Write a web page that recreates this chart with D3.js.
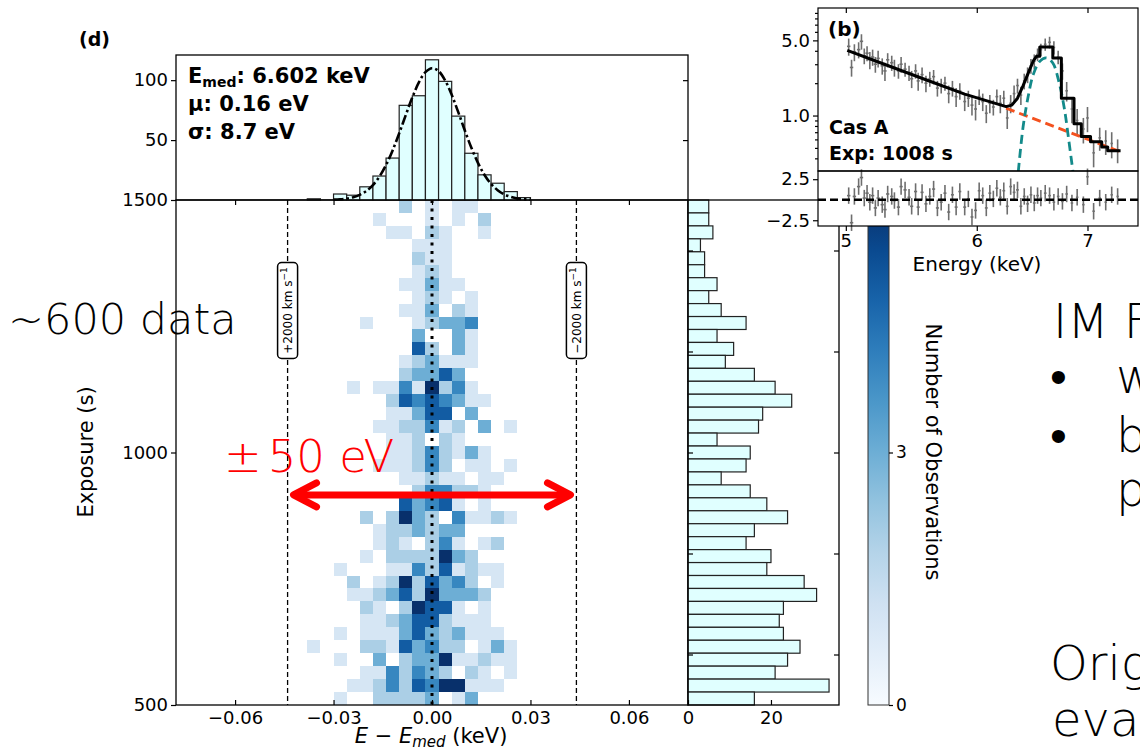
<!DOCTYPE html>
<html>
<head>
<meta charset="utf-8">
<title>Fe K line centroid vs exposure</title>
<script src="https://d3js.org/d3.v7.min.js"></script>
<style>
  body {margin: 0; background: #fff;}
  svg text {font-family: "DejaVu Sans", sans-serif;}
  .slide {font-family: "Noto Sans CJK JP", sans-serif; font-weight: 300;}
</style>
</head>
<body>
<svg id="chart" width="1140" height="751"></svg>
<script>
// ---------- data ----------
// energy bins (centre, eV offset from E_med), 4 eV wide
const energyBinsEV = [-36,-32,-28,-24,-20,-16,-12,-8,-4,0,4,8,12,16,20,24,28,32];
// top histogram counts per energy bin
const energyCounts = [1,0,5,4,11,20,35,79,87,117,99,70,39,21,14,7,2,0];
// right histogram counts per exposure bin, listed from 1500 s down to 500 s
const exposureCounts = [5,5,6,3,4,4,7,5,8,14, 7,11,9,16,21,25,18,17,7,15,
                        14,8,15,19,24,16,14,20,19,28, 31,23,22,23,27,24,21,34,16];
// 2D counts: rows = exposure bins (1500 s -> 500 s), columns = energyBinsEV
const cellCounts = [
  [0,0,0,0,0,0,0,2,0,1,0,1,1,0,0,0,0,0],
  [0,0,0,0,0,1,0,0,0,1,0,1,0,2,0,0,0,0],
  [0,0,0,0,0,0,1,1,0,2,1,0,0,1,0,0,0,0],
  [0,0,0,0,0,0,0,0,1,1,1,0,0,0,0,0,0,0],
  [0,0,0,0,0,0,0,0,2,1,1,0,0,0,0,0,0,0],
  [0,0,0,0,0,0,0,0,1,2,1,0,0,0,0,0,0,0],
  [0,0,0,0,0,0,0,1,1,3,1,1,0,0,0,0,0,0],
  [0,0,0,0,0,0,0,0,1,2,1,0,1,0,0,0,0,0],
  [0,0,0,0,0,0,0,1,1,3,0,2,1,0,0,0,0,0],
  [0,0,0,0,1,0,0,0,1,2,3,3,4,0,0,0,0,0],
  [0,0,0,0,0,0,0,0,3,0,0,3,1,0,0,0,0,0],
  [0,0,0,0,0,0,0,0,5,2,0,3,1,0,0,0,0,0],
  [0,0,0,0,0,0,0,1,2,3,1,1,1,0,0,0,0,0],
  [0,0,0,0,0,0,0,2,3,3,5,3,0,0,0,0,0,0],
  [0,0,0,1,0,1,1,4,1,6,2,4,1,0,0,0,0,0],
  [0,0,0,0,0,0,2,5,4,5,4,3,1,1,0,0,0,0],
  [0,0,0,0,0,0,1,1,3,5,5,0,3,0,0,0,0,0],
  [0,0,0,0,0,1,1,2,2,4,1,2,0,3,0,1,0,0],
  [0,0,0,0,0,0,1,1,2,0,2,1,0,0,0,0,0,0],
  [0,0,0,0,0,0,1,1,2,4,2,1,3,1,0,0,0,0],
  [0,0,0,0,0,1,1,1,2,4,2,0,1,1,0,1,0,0],
  [0,0,0,0,0,0,0,1,1,2,1,1,0,1,1,0,0,0],
  [0,0,0,0,0,0,0,0,2,4,4,2,2,1,0,0,0,0],
  [0,0,0,0,0,0,0,5,3,4,5,1,0,1,0,0,0,0],
  [0,0,0,0,2,0,2,6,3,2,0,4,1,1,2,1,0,0],
  [0,0,0,0,0,1,2,2,3,2,3,3,0,0,0,0,0,0],
  [0,0,0,0,0,1,2,1,0,2,4,1,0,1,2,0,0,0],
  [0,0,0,0,1,0,2,2,2,2,6,3,2,0,0,0,0,0],
  [0,0,1,0,0,0,1,1,4,2,5,1,2,1,1,0,0,0],
  [0,0,0,2,0,1,2,6,2,5,3,4,2,0,1,0,0,0],
  [0,0,0,1,1,2,3,5,2,6,3,3,3,2,0,0,0,0],
  [0,0,0,0,2,1,0,2,6,5,5,1,0,1,0,0,0,0],
  [0,0,0,0,1,1,2,3,5,5,2,1,1,1,0,0,0,0],
  [0,0,1,0,1,1,1,3,5,3,2,3,1,1,1,0,0,0],
  [1,0,0,0,2,2,1,5,3,4,2,2,0,1,3,1,0,0],
  [0,0,1,0,0,3,0,2,3,3,6,1,1,2,1,1,0,0],
  [0,0,0,0,1,1,4,2,4,3,2,0,2,1,0,1,0,0],
  [0,0,0,1,1,2,4,2,5,4,6,6,1,1,1,0,0,0],
  [0,0,1,0,0,2,2,2,2,3,0,1,3,0,0,0,0,0]
];
// gaussian fit drawn over the top histogram (eV, counts)
const fitEV     = [-30,-28,-26,-24,-22,-20,-18,-16,-14,-12,-10,-8,-6,-4,-2,0,2,4,6,8,10,12,14,16,18,20,22,24,26,28,30];
const fitCounts = [0.3,0.6,1.2,2.3,4.3,7.5,12.5,19.6,29.2,41.4,55.6,70.8,85.6,98.1,106.7,110,107.6,99.8,87.8,73.3,58,43.6,31,20.9,13.4,8.2,4.7,2.6,1.3,0.7,0.3];
const velocityLines = [{e: -0.044, label: "+2000 km s"}, {e: 0.044, label: "\u22122000 km s"}];
const arrowSpan = [-0.0425, 0.0425], arrowExposure = 916;

// inset (b): Cas A spectrum  [E keV, flux, error]
const specData = [
  [5.02,4.4,0.8],[5.04,2.8,0.5],[5.06,3.9,0.7],[5.09,4.1,0.7],[5.11,4.9,0.8],[5.13,3.6,0.6],[5.15,3.8,0.6],
  [5.17,3.3,0.6],[5.19,3.5,0.6],[5.21,3.0,0.5],[5.23,3.4,0.6],[5.26,2.9,0.5],[5.28,2.6,0.5],[5.30,3.3,0.5],
  [5.33,3.1,0.5],[5.35,2.8,0.5],[5.38,2.6,0.4],[5.40,3.0,0.5],[5.43,2.7,0.4],[5.46,2.5,0.4],[5.48,2.2,0.4],
  [5.51,2.6,0.4],[5.53,2.1,0.4],[5.56,2.4,0.4],[5.59,2.0,0.35],[5.62,2.2,0.35],[5.65,2.3,0.35],[5.68,1.8,0.3],
  [5.71,1.9,0.3],[5.74,2.0,0.3],[5.77,1.6,0.3],[5.80,1.8,0.3],[5.83,1.5,0.3],[5.86,1.7,0.3],[5.90,1.35,0.25],
  [5.93,1.45,0.25],[5.96,1.25,0.25],[5.99,1.15,0.25],[6.02,1.5,0.25],[6.05,1.35,0.25],[6.08,1.05,0.2],
  [6.11,1.3,0.25],[6.14,1.2,0.2],[6.17,1.5,0.25],[6.20,1.3,0.25],[6.23,1.45,0.25],[6.26,0.95,0.2],
  [6.29,1.3,0.25],[6.32,1.6,0.3],[6.35,1.9,0.3],[6.38,1.55,0.3],[6.41,2.1,0.35],[6.44,2.4,0.4],[6.47,2.9,0.45],
  [6.50,3.2,0.5],[6.53,3.7,0.5],[6.56,4.1,0.55],[6.60,4.6,0.6],[6.64,4.8,0.6],[6.68,4.3,0.6],[6.72,3.5,0.5],
  [6.76,2.6,0.45],[6.80,1.7,0.35],[6.85,1.15,0.3],[6.90,0.9,0.25],[6.96,0.75,0.2],[7.00,0.95,0.25],
  [7.06,0.45,0.12],[7.12,0.62,0.15],[7.18,0.58,0.15],[7.24,0.55,0.15],[7.30,0.48,0.12]
];
const residuals = [
  [5.02,0.5],[5.04,-2.8],[5.06,0.4],[5.09,1.6],[5.11,2.7],[5.13,0.2],[5.15,0.8],[5.17,-0.3],[5.19,0.5],
  [5.21,-1.0],[5.23,0.2],[5.26,-0.6],[5.28,-1.2],[5.30,0.7],[5.33,0.4],[5.35,-0.1],[5.38,-0.9],[5.40,1.6],
  [5.43,1.2],[5.46,0.3],[5.48,-0.8],[5.51,1.0],[5.53,-0.9],[5.56,0.9],[5.59,-0.5],[5.62,0.4],[5.65,1.3],
  [5.68,-1.0],[5.71,-0.3],[5.74,0.8],[5.77,-1.5],[5.80,0.6],[5.83,-0.9],[5.86,1.0],[5.90,-0.9],[5.93,0.1],
  [5.96,-2.1],[5.99,-1.3],[6.02,1.1],[6.05,0.5],[6.08,-1.0],[6.11,0.8],[6.14,0.1],[6.17,1.4],[6.20,0.3],
  [6.23,1.1],[6.26,-0.8],[6.29,1.6],[6.32,0.9],[6.35,1.2],[6.38,-0.8],[6.41,0.4],[6.44,-0.5],[6.47,0.6],
  [6.50,-0.4],[6.53,0.5],[6.56,0.2],[6.60,0.8],[6.64,0.5],[6.68,-0.3],[6.72,0.4],[6.76,-0.2],[6.80,0.7],
  [6.85,-0.4],[6.90,0.3],[6.96,-0.6],[7.00,2.8],[7.06,-1.4],[7.12,0.2],[7.18,-0.3],[7.24,0.6],[7.30,0.4]
];
const modelLine = [
  [5.01,4.03],[5.30,2.92],[5.60,2.13],[5.90,1.58],[6.25,1.21],[6.30,1.25],[6.35,1.45],[6.40,1.90],
  [6.45,2.55],[6.49,3.20],[6.52,3.55],[6.55,3.55],[6.55,4.34],[6.67,4.34],[6.67,3.43],[6.75,3.43],
  [6.75,1.45],[6.87,1.45],[6.87,0.84],[6.94,0.84],[6.94,0.64],[7.03,0.64],[7.03,0.57],[7.14,0.57],
  [7.14,0.51],[7.20,0.51],[7.20,0.47],[7.33,0.47]
];
const continuumLine = [[6.25,1.17],[7.33,0.46]];
const gaussLine = [[6.357,0.30],[6.40,0.79],[6.445,1.5],[6.49,2.39],[6.55,3.19],[6.61,3.43],
                   [6.67,3.08],[6.73,2.0],[6.78,1.13],[6.82,0.59],[6.86,0.30]];

// ---------- scales ----------
const svg = d3.select("#chart");
const x = d3.scaleLinear().domain([-0.078, 0.078]).range([176, 688]);
const y = d3.scaleLinear().domain([500, 1500]).range([705, 200]);
const yTop = d3.scaleLinear().domain([0, 121]).range([200, 55]);
const xRight = d3.scaleLinear().domain([0, 36.4]).range([688, 839]);
const yBar = d3.scaleLinear().domain([0, 6]).range([705, 200]);
const color = d3.scaleSequential(d3.interpolateBlues).domain([0, 6]);
const halfBin = 0.002;
const nRows = exposureCounts.length;
const rowEdges = d3.range(nRows + 1).map(i => 1500 - i * 1000 / nRows);
const intFmt = d3.format("d");

function styleAxis(g, size) {
  g.select(".domain").remove();
  g.selectAll("line").attr("stroke", "#000").attr("stroke-width", 1.2);
  g.selectAll("text").attr("font-size", size || 18).attr("fill", "#000")
    .attr("font-family", "DejaVu Sans, sans-serif");
}

// ---------- heatmap ----------
const cells = [];
cellCounts.forEach((row, i) => row.forEach((n, j) => {
  if (n > 0) cells.push({e: energyBinsEV[j] / 1000, hi: rowEdges[i], lo: rowEdges[i + 1], n: n});
}));
svg.append("g").selectAll("rect").data(cells).join("rect")
  .attr("x", d => x(d.e - halfBin))
  .attr("width", d => x(d.e + halfBin) - x(d.e - halfBin))
  .attr("y", d => y(d.hi))
  .attr("height", d => y(d.lo) - y(d.hi))
  .attr("fill", d => color(d.n))
  .attr("shape-rendering", "crispEdges");

// zero line and +-2000 km/s lines
svg.append("line").attr("x1", x(0)).attr("x2", x(0)).attr("y1", y(1500)).attr("y2", y(500))
  .attr("stroke", "#000").attr("stroke-width", 3).attr("stroke-dasharray", "3,5.5");
velocityLines.forEach(v => {
  svg.append("line").attr("x1", x(v.e)).attr("x2", x(v.e)).attr("y1", y(1500)).attr("y2", y(500))
    .attr("stroke", "#000").attr("stroke-width", 1.3).attr("stroke-dasharray", "5,3");
  const g = svg.append("g").attr("transform", `translate(${x(v.e)},310.5) rotate(-90)`);
  g.append("rect").attr("x", -48).attr("y", -10).attr("width", 96).attr("height", 20).attr("rx", 4)
    .attr("fill", "#fff").attr("stroke", "#000").attr("stroke-width", 1.5);
  const t = g.append("text").attr("text-anchor", "middle").attr("y", 4.5).attr("font-size", 12);
  t.append("tspan").text(v.label);
  t.append("tspan").attr("dy", -5).attr("font-size", 9).text("\u22121");
});

// red double arrow
const ay = y(arrowExposure), ax0 = x(arrowSpan[0]), ax1 = x(arrowSpan[1]);
const red = svg.append("g").attr("stroke", "#ff0000").attr("stroke-width", 7).attr("fill", "none")
  .attr("stroke-linecap", "round").attr("stroke-linejoin", "round");
red.append("line").attr("x1", ax0 + 3).attr("x2", ax1 - 3).attr("y1", ay).attr("y2", ay);
red.append("polyline").attr("points", `${ax0 + 24},${ay - 12} ${ax0 + 1},${ay} ${ax0 + 24},${ay + 12}`);
red.append("polyline").attr("points", `${ax1 - 24},${ay - 12} ${ax1 - 1},${ay} ${ax1 - 24},${ay + 12}`);

// main frame + axes
svg.append("rect").attr("x", 176).attr("y", 200).attr("width", 512).attr("height", 505)
  .attr("fill", "none").attr("stroke", "#000").attr("stroke-width", 1.3);
const xt = [-0.06, -0.03, 0, 0.03, 0.06];
svg.append("g").attr("transform", "translate(0,705)")
  .call(d3.axisBottom(x).tickValues(xt).tickFormat(d3.format(".2f")).tickSize(-5).tickPadding(6))
  .call(g => styleAxis(g));
svg.append("g").attr("transform", "translate(0,200)")
  .call(d3.axisTop(x).tickValues(xt).tickFormat("").tickSize(-5))
  .call(g => styleAxis(g));
svg.append("g").attr("transform", "translate(176,0)")
  .call(d3.axisLeft(y).tickValues([500, 1000, 1500]).tickFormat(intFmt).tickSize(5).tickPadding(3))
  .call(g => styleAxis(g));

svg.append("text").attr("transform", "translate(93,452) rotate(-90)").attr("text-anchor", "middle")
  .attr("font-size", 21).text("Exposure (s)");
const xl = svg.append("text").attr("x", 431).attr("y", 743).attr("text-anchor", "middle").attr("font-size", 21);
xl.append("tspan").attr("font-style", "italic").text("E");
xl.append("tspan").text(" \u2212 ");
xl.append("tspan").attr("font-style", "italic").text("E");
xl.append("tspan").attr("font-style", "italic").attr("font-size", 15).attr("dy", 4).text("med");
xl.append("tspan").attr("dy", -4).text(" (keV)");

// ---------- top histogram ----------
const topBars = energyBinsEV.map((ev, i) => ({e: ev / 1000, n: energyCounts[i]})).filter(d => d.n > 0);
svg.append("g").selectAll("rect").data(topBars).join("rect")
  .attr("x", d => x(d.e - halfBin)).attr("width", d => x(d.e + halfBin) - x(d.e - halfBin))
  .attr("y", d => yTop(d.n)).attr("height", d => yTop(0) - yTop(d.n))
  .attr("fill", "#e0ffff").attr("stroke", "#222").attr("stroke-width", 1.2);
svg.append("path")
  .datum(fitEV.map((ev, i) => [ev / 1000, fitCounts[i]]))
  .attr("d", d3.line().x(d => x(d[0])).y(d => yTop(d[1])).curve(d3.curveCatmullRom))
  .attr("fill", "none").attr("stroke", "#000").attr("stroke-width", 2.6)
  .attr("stroke-dasharray", "10,3,2.5,3");
svg.append("rect").attr("x", 176).attr("y", 55).attr("width", 512).attr("height", 145)
  .attr("fill", "none").attr("stroke", "#000").attr("stroke-width", 1.3);
svg.append("g").attr("transform", "translate(176,0)")
  .call(d3.axisLeft(yTop).tickValues([50, 100]).tickFormat(intFmt).tickSize(5).tickPadding(3))
  .call(g => styleAxis(g));
svg.append("g").attr("transform", "translate(688,0)")
  .call(d3.axisRight(yTop).tickValues([50, 100]).tickFormat("").tickSize(-5))
  .call(g => styleAxis(g));

const ann = svg.append("g").attr("font-weight", "bold").attr("font-size", 21);
const a1 = ann.append("text").attr("x", 188).attr("y", 83);
a1.append("tspan").text("E");
a1.append("tspan").attr("font-size", 14).attr("dy", 4).text("med");
a1.append("tspan").attr("dy", -4).text(": 6.602 keV");
ann.append("text").attr("x", 188).attr("y", 111).text("\u03bc: 0.16 eV");
ann.append("text").attr("x", 188).attr("y", 139).text("\u03c3: 8.7 eV");
svg.append("text").attr("x", 79).attr("y", 46).attr("font-weight", "bold").attr("font-size", 19).text("(d)");

// ---------- right histogram ----------
const rightBars = exposureCounts.map((n, i) => ({hi: rowEdges[i], lo: rowEdges[i + 1], n: n}));
svg.append("g").selectAll("rect").data(rightBars).join("rect")
  .attr("x", xRight(0)).attr("width", d => xRight(d.n) - xRight(0))
  .attr("y", d => y(d.hi)).attr("height", d => y(d.lo) - y(d.hi))
  .attr("fill", "#e0ffff").attr("stroke", "#222").attr("stroke-width", 1.2);
svg.append("rect").attr("x", 688).attr("y", 200).attr("width", 151).attr("height", 505)
  .attr("fill", "none").attr("stroke", "#000").attr("stroke-width", 1.3);
svg.append("g").attr("transform", "translate(0,705)")
  .call(d3.axisBottom(xRight).tickValues([0, 20]).tickFormat(intFmt).tickSize(-5).tickPadding(6))
  .call(g => styleAxis(g));
const ry = [600, 800, 1000, 1200, 1400];
svg.append("g").attr("transform", "translate(688,0)")
  .call(d3.axisRight(y).tickValues(ry).tickFormat("").tickSize(5)).call(g => styleAxis(g));
svg.append("g").attr("transform", "translate(839,0)")
  .call(d3.axisLeft(y).tickValues(ry).tickFormat("").tickSize(5)).call(g => styleAxis(g));

// ---------- colorbar ----------
const grad = svg.append("defs").append("linearGradient").attr("id", "cbar")
  .attr("x1", 0).attr("y1", 1).attr("x2", 0).attr("y2", 0);
d3.range(0, 1.0001, 0.1).forEach(t => grad.append("stop").attr("offset", t).attr("stop-color", d3.interpolateBlues(t)));
svg.append("rect").attr("x", 868).attr("y", 200).attr("width", 21).attr("height", 505)
  .attr("fill", "url(#cbar)").attr("stroke", "#333").attr("stroke-width", 1);
svg.append("g").attr("transform", "translate(889,0)")
  .call(d3.axisRight(yBar).tickValues([0, 3]).tickFormat(intFmt).tickSize(4).tickPadding(3))
  .call(g => styleAxis(g, 17));
svg.append("text").attr("transform", "translate(926,452) rotate(90)").attr("text-anchor", "middle")
  .attr("font-size", 21).text("Number of Observations");

// ---------- inset (b) ----------
const xi = d3.scaleLog().domain([4.81, 7.51]).range([818, 1138]);
const yi = d3.scaleLog().domain([0.305, 10]).range([171, 8]);
const yr = d3.scaleLinear().domain([-3.2, 3.5]).range([226, 171]);
const inset = svg.append("g");
inset.append("rect").attr("x", 818).attr("y", 8).attr("width", 320).attr("height", 218).attr("fill", "#fff");
inset.append("clipPath").attr("id", "upclip").append("rect")
  .attr("x", 818).attr("y", 8).attr("width", 320).attr("height", 163);
const up = inset.append("g").attr("clip-path", "url(#upclip)");
const gray = "#6e6e6e";
specData.forEach(d => {
  up.append("line").attr("x1", xi(d[0])).attr("x2", xi(d[0]))
    .attr("y1", yi(d[1] + d[2])).attr("y2", yi(Math.max(d[1] - d[2], 0.01)))
    .attr("stroke", gray).attr("stroke-width", 1.6);
  up.append("line").attr("x1", xi(d[0] - 0.012)).attr("x2", xi(d[0] + 0.012))
    .attr("y1", yi(d[1])).attr("y2", yi(d[1])).attr("stroke", gray).attr("stroke-width", 1.6);
});
const lineI = d3.line().x(d => xi(d[0])).y(d => yi(d[1]));
up.append("path").datum(continuumLine).attr("d", lineI).attr("fill", "none")
  .attr("stroke", "#f4511e").attr("stroke-width", 2.8).attr("stroke-dasharray", "9,5");
up.append("path").datum(gaussLine).attr("d", lineI.curve(d3.curveCatmullRom)).attr("fill", "none")
  .attr("stroke", "#138a8a").attr("stroke-width", 2.8).attr("stroke-dasharray", "9,5");
up.append("path").datum(modelLine).attr("d", d3.line().x(d => xi(d[0])).y(d => yi(d[1]))).attr("fill", "none")
  .attr("stroke", "#000").attr("stroke-width", 3).attr("stroke-linejoin", "round");

residuals.forEach(d => {
  inset.append("line").attr("x1", xi(d[0])).attr("x2", xi(d[0]))
    .attr("y1", yr(d[1] + 1)).attr("y2", yr(d[1] - 1)).attr("stroke", gray).attr("stroke-width", 1.6);
  inset.append("line").attr("x1", xi(d[0] - 0.012)).attr("x2", xi(d[0] + 0.012))
    .attr("y1", yr(d[1])).attr("y2", yr(d[1])).attr("stroke", gray).attr("stroke-width", 1.6);
});
inset.append("line").attr("x1", 818).attr("x2", 1138).attr("y1", yr(0)).attr("y2", yr(0))
  .attr("stroke", "#000").attr("stroke-width", 2.5).attr("stroke-dasharray", "8,4");

inset.append("rect").attr("x", 818).attr("y", 8).attr("width", 320).attr("height", 163)
  .attr("fill", "none").attr("stroke", "#000").attr("stroke-width", 1.2);
inset.append("rect").attr("x", 818).attr("y", 171).attr("width", 320).attr("height", 55)
  .attr("fill", "none").attr("stroke", "#000").attr("stroke-width", 1.2);
inset.append("g").attr("transform", "translate(818,0)")
  .call(d3.axisLeft(yi).tickValues([1, 5]).tickFormat(d3.format(".1f")).tickSize(5).tickPadding(3))
  .call(g => styleAxis(g));
inset.append("g").attr("transform", "translate(818,0)")
  .call(d3.axisLeft(yi).tickValues([0.4,0.5,0.6,0.7,0.8,0.9,2,3,4,6,7,8,9]).tickFormat("").tickSize(3))
  .call(g => styleAxis(g));
inset.append("g").attr("transform", "translate(818,0)")
  .call(d3.axisLeft(yr).tickValues([-2.5, 2.5]).tickFormat(d3.format(".1f")).tickSize(5).tickPadding(3))
  .call(g => styleAxis(g));
inset.append("g").attr("transform", "translate(0,226)")
  .call(d3.axisBottom(xi).tickValues([5, 6, 7]).tickFormat(intFmt).tickSize(5).tickPadding(3))
  .call(g => styleAxis(g));
inset.append("g").attr("transform", "translate(0,8)")
  .call(d3.axisTop(xi).tickValues([5, 6, 7]).tickFormat("").tickSize(-5)).call(g => styleAxis(g));
inset.append("text").attr("x", 977).attr("y", 271).attr("text-anchor", "middle").attr("font-size", 20)
  .text("Energy (keV)");
const ib = inset.append("g").attr("font-weight", "bold");
ib.append("text").attr("x", 828).attr("y", 36).attr("font-size", 20).text("(b)");
ib.append("text").attr("x", 829).attr("y", 134).attr("font-size", 19).text("Cas A");
ib.append("text").attr("x", 829).attr("y", 160).attr("font-size", 19).text("Exp: 1008 s");

// ---------- slide text around the figure ----------
const slide = svg.append("g").attr("class", "slide");
slide.append("text").attr("x", 8).attr("y", 334).attr("font-size", 43).text("~600 data");
const pm = slide.append("text").attr("x", 224).attr("y", 472).attr("font-size", 45).attr("fill", "#ff0000");
pm.append("tspan").text("\u00b1");
pm.append("tspan").attr("dx", 6).text("50 eV");
const side = slide.append("g").attr("font-size", 48);
side.append("text").attr("x", 1053).attr("y", 338).text("IM F");
side.append("text").attr("x", 1050).attr("y", 393).text("\u2022");
side.append("text").attr("x", 1116).attr("y", 393).text("w");
side.append("text").attr("x", 1050).attr("y", 452).text("\u2022");
side.append("text").attr("x", 1116).attr("y", 452).text("b");
side.append("text").attr("x", 1116).attr("y", 506).text("p");
side.append("text").attr("x", 1050).attr("y", 680).text("Orig");
side.append("text").attr("x", 1052).attr("y", 736).text("evap");
</script>
</body>
</html>
